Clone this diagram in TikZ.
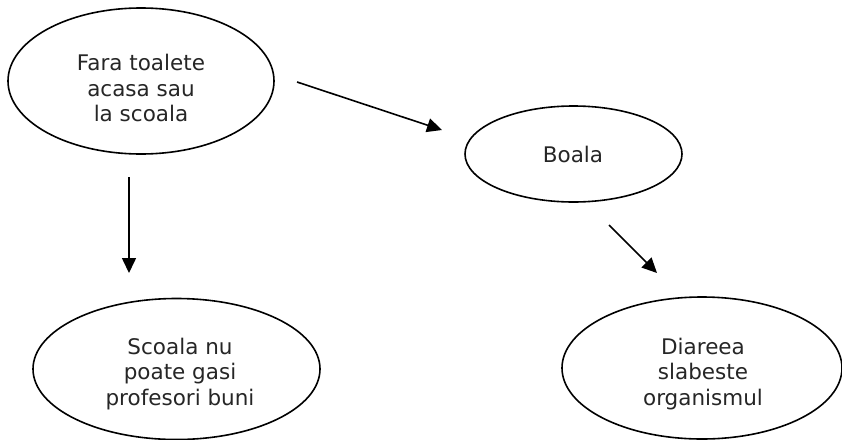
\documentclass[tikz,border=0pt]{standalone}
\usepackage{fontspec}
\setmainfont{DejaVu Sans}
\usetikzlibrary{shapes.geometric,arrows.meta}
\begin{document}
\begin{tikzpicture}[x=1pt,y=-1pt,
  ell/.style={draw=black,line width=1.6pt,ellipse,inner sep=0pt},
  txt/.style={align=center,font=\fontsize{21.5}{25.5}\selectfont,text=black!85,inner sep=0pt},
  arr/.style={line width=1.6pt,-{Triangle[length=15pt,width=14pt]}}]
\useasboundingbox (0,0) rectangle (842,439);
\node[ell,minimum width=266pt,minimum height=146pt] (n1) at (141,81) {};
\node[txt] (t1) at (141,88) {Fara toalete\\acasa sau\\la scoala};
\node[ell,minimum width=217pt,minimum height=96pt] (n2) at (573.5,154) {};
\node[txt] (t2) at (573,154) {Boala};
\node[ell,minimum width=287pt,minimum height=141pt] (n3) at (176.5,369) {};
\node[txt] (t3) at (180,374) {Scoala nu\\poate gasi\\profesori buni};
\node[ell,minimum width=280pt,minimum height=142pt] (n4) at (702,368) {};
\node[txt] (t4) at (703,374) {Diareea\\slabeste\\organismul};
\coordinate (a1s) at (297,82);
\coordinate (a1e) at (442,130);
\coordinate (a2s) at (129,177);
\coordinate (a2e) at (129,273);
\coordinate (a3s) at (609,225);
\coordinate (a3e) at (657,273);
\draw[arr] (a1s) -- (a1e);
\draw[arr] (a2s) -- (a2e);
\draw[arr] (a3s) -- (a3e);
\end{tikzpicture}
\end{document}
